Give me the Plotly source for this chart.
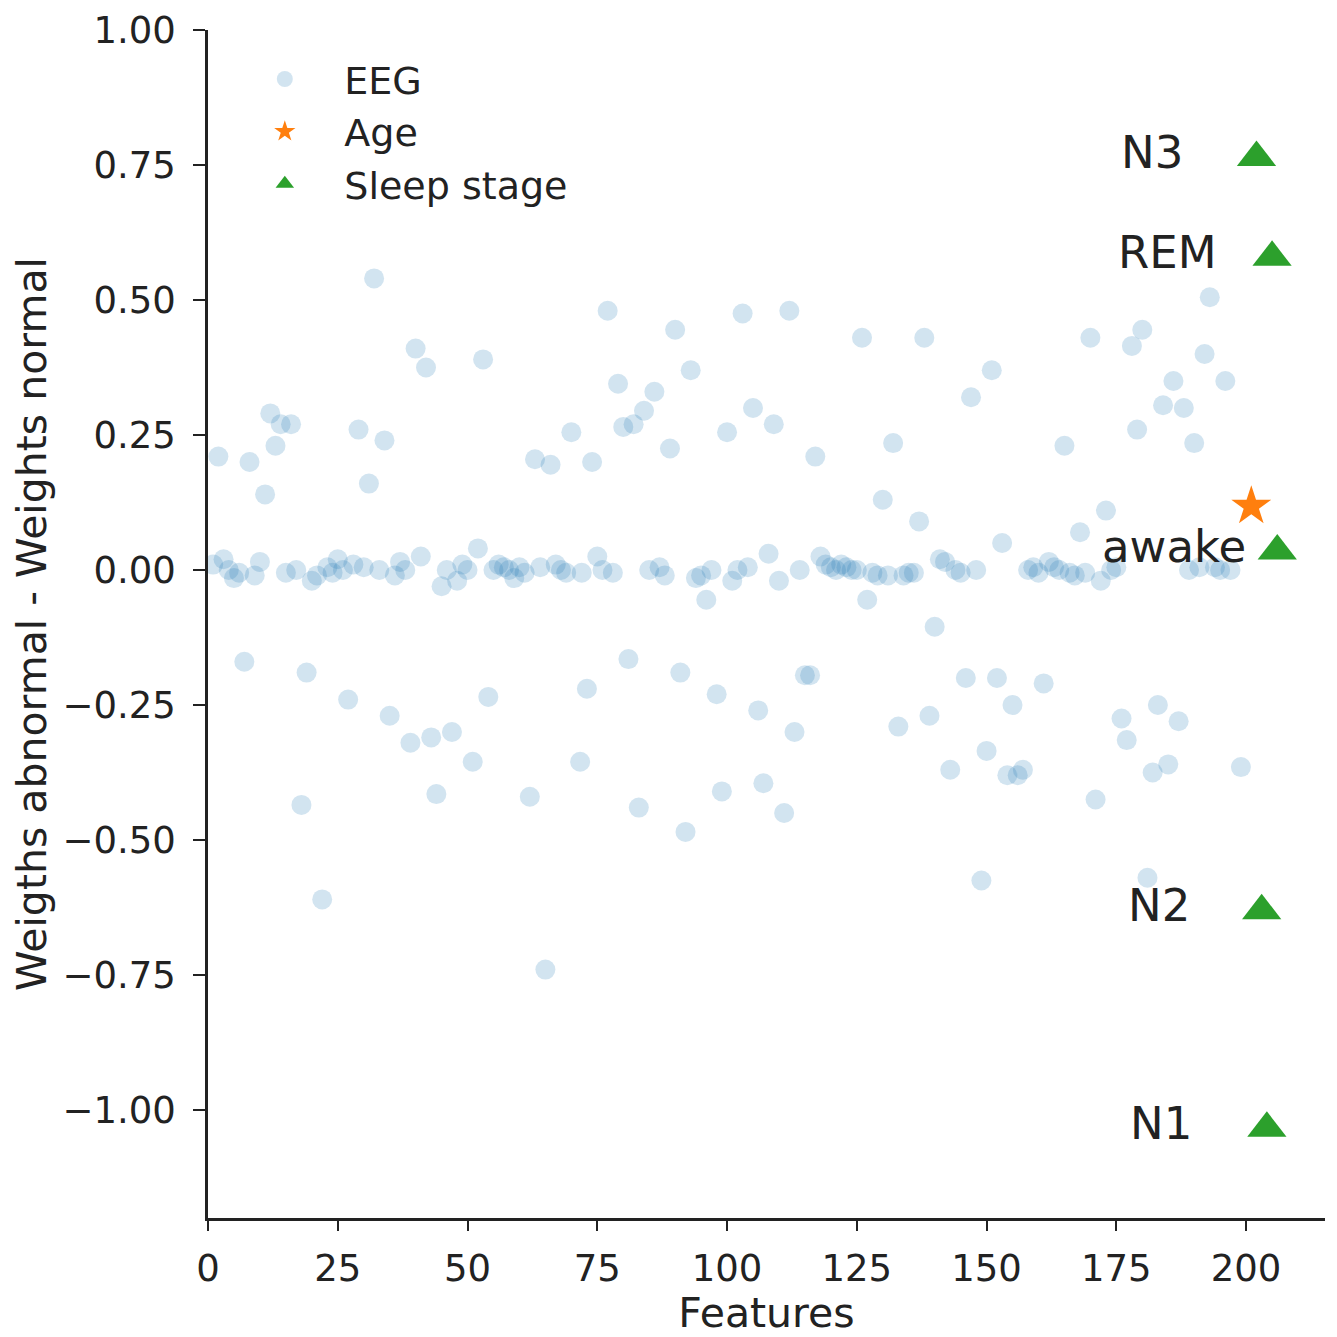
import plotly.graph_objects as go

# EEG feature weight differences (x = feature index, y = weight difference)
eeg_x = [2, 8, 7, 11, 12, 13, 14, 16, 19, 18, 22, 27, 29, 31, 32, 34, 35, 39, 40, 42,
         43, 44, 47, 51, 53, 54, 62, 63, 65, 66, 70, 71.7, 73, 74, 77, 79, 80, 81, 82, 83,
         84, 86, 89, 90, 91, 92, 93, 96, 98, 99, 100, 103, 105, 106, 107, 108, 109, 110, 111, 112,
         113, 115, 116, 117, 126, 127, 130, 132, 133, 137, 138, 139, 140, 143, 146, 147, 149, 150, 151, 152,
         153, 154, 155, 156, 157, 161, 165, 168, 170, 171, 173, 176, 177, 178, 179, 180, 181, 182, 183, 184,
         185, 186, 187, 188, 190, 192, 193, 196, 199,
         1, 3, 4, 5, 6, 9, 10, 15, 17, 20, 21, 23, 24, 25, 26, 28, 30, 33, 36, 37,
         38, 41, 45, 46, 48, 49, 50, 52, 55, 56, 57, 58, 59, 60, 61, 64, 67, 68, 69, 72,
         75, 76, 78, 85, 87, 88, 94, 95, 97, 101, 102, 104, 114, 118, 119, 120, 121, 122, 123, 124,
         125, 128, 129, 131, 134, 135, 136, 141, 142, 144, 145, 148, 158, 159, 160, 162, 163, 164, 166, 167,
         169, 172, 174, 175, 189, 191, 194, 195, 197]
eeg_y = [0.21, 0.20, -0.17, 0.14, 0.29, 0.23, 0.27, 0.27, -0.19, -0.435, -0.61, -0.24, 0.26, 0.16, 0.54, 0.24, -0.27, -0.32, 0.41, 0.375,
         -0.31, -0.415, -0.30, -0.355, 0.39, -0.235, -0.42, 0.205, -0.74, 0.195, 0.255, -0.355, -0.22, 0.20, 0.48, 0.345, 0.265, -0.165, 0.27, -0.44,
         0.295, 0.33, 0.225, 0.445, -0.19, -0.485, 0.37, -0.055, -0.23, -0.41, 0.255, 0.475, 0.30, -0.26, -0.395, 0.03, 0.27, -0.02, -0.45, 0.48,
         -0.30, -0.195, -0.195, 0.21, 0.43, -0.055, 0.13, 0.235, -0.29, 0.09, 0.43, -0.27, -0.105, -0.37, -0.20, 0.32, -0.575, -0.335, 0.37, -0.20,
         0.05, -0.38, -0.25, -0.38, -0.37, -0.21, 0.23, 0.07, 0.43, -0.425, 0.11, -0.275, -0.315, 0.415, 0.26, 0.445, -0.57, -0.375, -0.25, 0.305,
         -0.36, 0.35, -0.28, 0.30, 0.235, 0.40, 0.505, 0.35, -0.365,
         0.01, 0.02, 0.0, -0.015, -0.005, -0.01, 0.015, -0.005, 0.0, -0.02, -0.01, 0.005, -0.005, 0.02, 0.0, 0.01, 0.005, 0.0, -0.01, 0.015,
         0.0, 0.025, -0.03, 0.0, -0.02, 0.01, 0.0, 0.04, 0.0, 0.01, 0.005, 0.0, -0.015, 0.005, -0.005, 0.005, 0.01, 0.0, -0.005, -0.005,
         0.025, 0.0, -0.005, 0.0, 0.005, -0.01, -0.015, -0.01, 0.0, -0.02, 0.0, 0.005, 0.0, 0.025, 0.01, 0.005, 0.0, 0.01, 0.005, 0.0,
         0.0, -0.005, -0.01, -0.01, -0.01, -0.005, -0.005, 0.02, 0.015, 0.0, -0.005, 0.0, 0.0, 0.005, -0.005, 0.015, 0.005, 0.0, -0.005, -0.01,
         -0.005, -0.02, 0.0, 0.005, 0.0, 0.005, 0.005, 0.0, 0.0]

age_x = [201]
age_y = [0.118]

stage_names = ["N3", "REM", "awake", "N2", "N1"]
stage_x = [202, 205, 206, 203, 204]
stage_y = [0.764, 0.579, 0.035, -0.631, -1.034]
stage_label_x = [188.3, 194.8, 200.3, 189.5, 190.0]

y_ticks = [-1.0, -0.75, -0.5, -0.25, 0.0, 0.25, 0.5, 0.75, 1.0]
x_ticks = [0, 25, 50, 75, 100, 125, 150, 175, 200]

TXT = "#222222"
FONT = "DejaVu Sans"

fig = go.Figure()
fig.add_trace(go.Scatter(
    x=eeg_x, y=eeg_y, mode="markers", name="EEG",
    marker=dict(size=20, color="#1f77b4", opacity=0.2, line=dict(width=0)),
))
fig.add_trace(go.Scatter(
    x=age_x, y=age_y, mode="markers", name="Age",
    marker=dict(symbol="star", size=30, color="#ff7f0e", line=dict(width=0)),
))
fig.add_trace(go.Scatter(
    x=stage_x, y=stage_y, mode="markers", name="Sleep stage",
    marker=dict(symbol="triangle-up", size=34, color="#2ca02c", line=dict(width=0)),
))

for name, lx, ly in zip(stage_names, stage_label_x, stage_y):
    fig.add_annotation(x=lx, y=ly, text=name, showarrow=False, xanchor="right",
                       yanchor="middle", yshift=5,
                       font=dict(family=FONT, size=45, color=TXT))

fig.update_layout(
    width=1329, height=1329,
    paper_bgcolor="white", plot_bgcolor="white",
    margin=dict(l=200, r=12, t=22, b=119, autoexpand=False),
    font=dict(family=FONT, color=TXT),
    showlegend=True,
    legend=dict(x=0.0155, y=0.985, xanchor="left", yanchor="top",
                font=dict(family=FONT, size=38, color=TXT),
                bgcolor="rgba(0,0,0,0)", itemsizing="trace", itemwidth=109,
                tracegroupgap=0),
)
fig.update_xaxes(
    range=[0, 215.2], tickvals=x_ticks, showgrid=False, zeroline=False, automargin=False,
    showline=True, linecolor=TXT, linewidth=2.5, ticks="outside", ticklen=10,
    tickwidth=2, tickcolor=TXT, tickfont=dict(family=FONT, size=37, color=TXT),
    ticklabelstandoff=6,
    title=dict(text="Features", font=dict(family=FONT, size=41, color=TXT), standoff=6),
)
fig.update_yaxes(
    range=[-1.2, 1.0], tickvals=y_ticks, tickformat=".2f", showgrid=False, zeroline=False,
    automargin=False,
    showline=True, linecolor=TXT, linewidth=2.5, ticks="outside", ticklen=12,
    tickwidth=2, tickcolor=TXT, tickfont=dict(family=FONT, size=37, color=TXT),
    ticklabelstandoff=10,
    title=dict(text="Weigths abnormal - Weights normal",
               font=dict(family=FONT, size=41, color=TXT), standoff=10),
)

fig.write_html("out.html")
